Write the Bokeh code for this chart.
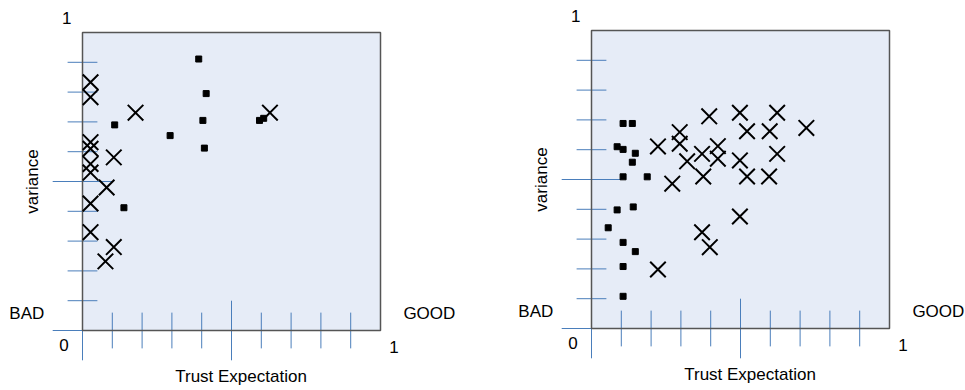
import math
from bokeh.plotting import figure
from bokeh.models import Range1d
from bokeh.layouts import row
from bokeh.core.properties import value
from bokeh.embed import file_html
from bokeh.resources import INLINE

# ---------------- data ----------------
# Left panel
left_sq_x = [0.390, 0.415, 0.404, 0.409, 0.294, 0.108, 0.139, 0.594, 0.608]
left_sq_y = [0.911, 0.795, 0.705, 0.612, 0.654, 0.690, 0.412, 0.705, 0.712]
left_x_x = [0.027, 0.027, 0.178, 0.629, 0.027, 0.027, 0.027, 0.027,
            0.105, 0.081, 0.027, 0.027, 0.105, 0.077]
left_x_y = [0.833, 0.783, 0.731, 0.731, 0.632, 0.610, 0.559, 0.530,
            0.581, 0.480, 0.426, 0.330, 0.280, 0.232]

# Right panel
right_sq_x = [0.106, 0.137, 0.086, 0.106, 0.147, 0.137, 0.106, 0.187,
              0.086, 0.140, 0.056, 0.106, 0.147, 0.106, 0.106]
right_sq_y = [0.688, 0.688, 0.610, 0.601, 0.588, 0.558, 0.509, 0.509,
              0.398, 0.408, 0.338, 0.289, 0.258, 0.208, 0.108]
right_x_x = [0.223, 0.296, 0.296, 0.395, 0.498, 0.623, 0.522, 0.598,
             0.721, 0.321, 0.371, 0.424, 0.424, 0.375, 0.498, 0.623,
             0.522, 0.596, 0.271, 0.498, 0.371, 0.397, 0.223]
right_x_y = [0.611, 0.659, 0.620, 0.712, 0.724, 0.724, 0.662, 0.662,
             0.673, 0.561, 0.586, 0.612, 0.570, 0.510, 0.564, 0.586,
             0.510, 0.510, 0.486, 0.376, 0.323, 0.273, 0.198]

tick_values = [0.1, 0.2, 0.3, 0.4, 0.5, 0.6, 0.7, 0.8, 0.9]
x_title = "Trust Expectation"
y_title = "variance"
bad_label = "BAD"
good_label = "GOOD"

FONT = value("Liberation Sans")
FSIZE = value("17px")
TICK_COLOR = "#4a7ebb"
FRAME_FILL = "#e6ecf7"
FRAME_LINE = "#555555"


def panel(width, xr, yr, sq_x, sq_y, cx, cy):
    p = figure(width=width, height=390, x_range=Range1d(*xr), y_range=Range1d(*yr),
               output_backend="svg", toolbar_location=None,
               x_axis_location=None, y_axis_location=None, min_border=0)
    p.grid.visible = False
    p.outline_line_color = None
    p.background_fill_color = "white"
    p.border_fill_color = "white"

    # plot frame
    p.quad(left=[0], right=[1], bottom=[0], top=[1], fill_color=FRAME_FILL,
           line_color=None)

    # y-axis ticks (horizontal lines straddling the left edge)
    y0s, y1s, xs0, xs1 = [], [], [], []
    for t in tick_values:
        big = abs(t - 0.5) < 1e-9
        xs0.append(-0.1 if big else -0.05)
        xs1.append(0.1 if big else 0.05)
        y0s.append(t)
        y1s.append(t)
    xs0.append(-0.1); xs1.append(0.0); y0s.append(0.0); y1s.append(0.0)
    p.segment(x0=xs0, y0=y0s, x1=xs1, y1=y1s, line_color=TICK_COLOR, line_width=1)

    # x-axis ticks (vertical lines straddling the bottom edge)
    ya, yb, xa = [], [], []
    for t in tick_values:
        big = abs(t - 0.5) < 1e-9
        ya.append(-0.1 if big else -0.06)
        yb.append(0.1 if big else 0.06)
        xa.append(t)
    xa.append(0.0); ya.append(-0.1); yb.append(0.0)
    p.segment(x0=xa, y0=ya, x1=xa, y1=yb, line_color=TICK_COLOR, line_width=1)

    # frame border
    p.quad(left=[0], right=[1], bottom=[0], top=[1], fill_color=None,
           line_color=FRAME_LINE, line_width=1.5)

    # markers
    p.scatter(sq_x, sq_y, marker="square", size=6, fill_color="black",
              line_color="black", line_width=1)
    p.scatter(cx, cy, marker="x", size=22, line_color="black", line_width=2)

    # texts
    common = dict(text_font=FONT, text_font_size=FSIZE, text_color="black",
                  text_baseline="middle")
    p.text(x=[-0.053], y=[1.047], text=["1"], text_align="center", **common)
    p.text(x=[-0.062], y=[-0.048], text=["0"], text_align="center", **common)
    p.text(x=[1.045], y=[-0.056], text=["1"], text_align="center", **common)
    p.text(x=[-0.187], y=[0.058], text=[bad_label], text_align="center", **common)
    p.text(x=[1.164], y=[0.058], text=[good_label], text_align="center", **common)
    p.text(x=[-0.169], y=[0.50], text=[y_title], text_align="center",
           angle=math.pi / 2, **common)
    p.text(x=[0.532], y=[-0.154], text=[x_title], text_align="center", **common)
    return p


S = 298.0
p1 = panel(482, (-82 / S, (482 - 82) / S), (-60 / S, 330 / S),
           left_sq_x, left_sq_y, left_x_x, left_x_y)
p2 = panel(483, (-109 / S, (483 - 109) / S), (-62 / S, 328 / S),
           right_sq_x, right_sq_y, right_x_x, right_x_y)

layout = row(p1, p2)
open("out.html", "w").write(file_html(layout, INLINE))
